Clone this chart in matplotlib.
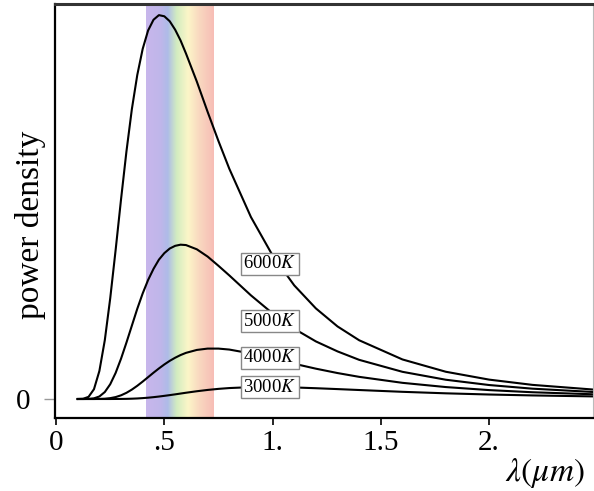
import matplotlib
matplotlib.use("Agg")
import matplotlib.pyplot as plt
import numpy as np
from matplotlib.colors import LinearSegmentedColormap

# wavelength (um) and power density (6000K peak = 100)
lam = [0.1, 0.125, 0.15, 0.175, 0.2, 0.225, 0.25, 0.275, 0.3, 0.325, 0.35, 0.375,
       0.4, 0.425, 0.45, 0.475, 0.5, 0.525, 0.55, 0.575, 0.6, 0.65, 0.7, 0.75,
       0.8, 0.9, 1.0, 1.1, 1.2, 1.3, 1.4, 1.6, 1.8, 2.0, 2.2, 2.5]

p6000 = [0.0, 0.06, 0.56, 2.55, 7.3, 15.3, 26.2, 38.8, 52.0, 64.5, 75.5, 84.4,
         91.2, 96.0, 98.8, 100.0, 99.7, 98.4, 96.2, 93.4, 90.0, 82.7, 74.8, 67.2,
         60.0, 47.4, 37.4, 29.6, 23.6, 18.9, 15.3, 10.3, 7.1, 5.05, 3.68, 2.38]
p5000 = [0.0, 0.0, 0.02, 0.17, 0.66, 1.81, 3.84, 6.79, 10.5, 14.7, 19.1, 23.5,
         27.5, 31.0, 33.9, 36.3, 38.0, 39.2, 39.9, 40.2, 40.1, 39.0, 37.1, 34.7,
         32.2, 27.0, 22.3, 18.3, 15.0, 12.4, 10.2, 7.08, 5.02, 3.64, 2.69, 1.77]
p4000 = [0.0, 0.0, 0.0, 0.0, 0.02, 0.07, 0.22, 0.50, 0.96, 1.61, 2.45, 3.44,
         4.54, 5.69, 6.85, 7.96, 9.00, 9.94, 10.75, 11.45, 12.02, 12.78, 13.13, 13.13,
         12.88, 11.86, 10.54, 9.18, 7.90, 6.76, 5.77, 4.21, 3.11, 2.32, 1.76, 1.19]
p3000 = [0.0, 0.0, 0.0, 0.0, 0.0, 0.0, 0.0, 0.01, 0.02, 0.04, 0.08, 0.14,
         0.23, 0.34, 0.48, 0.64, 0.82, 1.01, 1.21, 1.42, 1.63, 2.02, 2.36, 2.64,
         2.85, 3.09, 3.12, 3.01, 2.81, 2.58, 2.34, 1.87, 1.48, 1.17, 0.93, 0.66]

curves = [p6000, p5000, p4000, p3000]
temps = ["6000", "5000", "4000", "3000"]

# visible band edges (um)
band_lo, band_hi = 0.416, 0.73

xticks = [0, 0.5, 1.0, 1.5, 2.0]
xticklabels = ["0", ".5", "1.", "1.5", "2."]

plt.rcParams["font.family"] = ["Liberation Serif", "DejaVu Serif"]
plt.rcParams["mathtext.fontset"] = "stix"

fig = plt.figure(figsize=(5.94, 4.91), dpi=100)
ax = fig.add_axes([55 / 594, 73 / 491, 538 / 594, 414 / 491])

xmin, xmax = -0.005, 2.48
ymin, ymax = -4.95, 102.9

# rainbow band
rainbow = LinearSegmentedColormap.from_list(
    "vis", [(0.0, "#c8b7ec"), (0.22, "#bfb6ea"), (0.32, "#aebce8"),
            (0.45, "#d2ecc0"), (0.62, "#fcf6c8"), (0.78, "#f9d9c0"),
            (1.0, "#f7bdb6")])
ax.imshow(np.linspace(0, 1, 256)[None, :], extent=[band_lo, band_hi, ymin, ymax],
          cmap=rainbow, aspect="auto", zorder=0, interpolation="bilinear")

for p in curves:
    ax.plot(lam, p, color="black", lw=1.5, zorder=2)

# temperature labels
label_y = [35.2, 20.3, 10.7, 3.1]
for t, y in zip(temps, label_y):
    ax.text(0.988, y, t + "$K$", ha="center", va="center", fontsize=13.5, zorder=3,
            bbox=dict(boxstyle="square,pad=0.15", fc="white", ec="#888888", lw=1))

ax.set_xlim(xmin, xmax)
ax.set_ylim(ymin, ymax)

ax.set_xticks(xticks)
ax.set_xticklabels(xticklabels)
ax.set_yticks([0])
ax.set_yticklabels(["0"])
ax.tick_params(axis="x", direction="out", length=5, width=1.2, pad=4, labelsize=21)
ax.tick_params(axis="y", direction="out", length=8, width=1, color="#999999",
               pad=10, labelsize=21)

for s in ["left", "bottom"]:
    ax.spines[s].set_linewidth(1.6)
    ax.spines[s].set_color("black")
ax.spines["top"].set_linewidth(2.2)
ax.spines["top"].set_color("#333333")
ax.spines["right"].set_linewidth(0.8)
ax.spines["right"].set_color("#bbbbbb")

ax.set_ylabel("power density", fontsize=24)
ax.yaxis.set_label_coords(-0.045, 0.466)
ax.yaxis.label.set_va("center")

ax.set_xlabel(r"$\lambda(\mu m)$", fontsize=24)
ax.xaxis.set_label_coords(0.985, -0.133)
ax.xaxis.label.set_ha("right")
ax.xaxis.label.set_va("center")

fig.savefig("out.png", dpi=100)
